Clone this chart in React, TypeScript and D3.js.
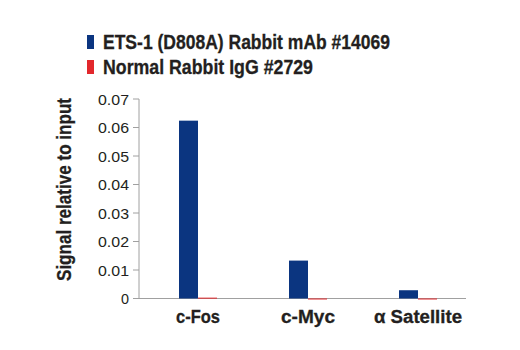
import React from "react";
import * as d3 from "d3";

const categories = ["c-Fos", "c-Myc", "α Satellite"];
const categoryLabelWidths = [44, 54, 88];
const seriesNames = ["ETS-1 (D808A) Rabbit mAb #14069", "Normal Rabbit IgG #2729"];
const legendWidths = [287, 210];
const etsValues = [0.0624, 0.0133, 0.0029];
const iggValues = [0.0003, -0.0003, -0.0001];
const yTicks = [0, 0.01, 0.02, 0.03, 0.04, 0.05, 0.06, 0.07];
const colors = ["#0b3580", "#e2282c"];

const FONT = "'Liberation Sans', Arial, sans-serif";

export default function App() {
  const W = 520, H = 350;
  const x0 = 139, x1 = 466;
  const y = d3.scaleLinear().domain([0, 0.07]).range([298.5, 99]);
  const xb = d3.scaleBand().domain(categories).range([143, 473]).padding(0);
  const barW = 19;
  const series = [etsValues, iggValues];
  return (
    <svg width={W} height={H} style={{ position: "absolute", left: 0, top: 0, background: "#fff" }}>
      {seriesNames.map((n, i) => (
        <g key={n} transform={`translate(87, ${35 + i * 25})`}>
          <rect x={0} y={0} width={7} height={14} fill={colors[i]} />
          <text x={16} y={14} fontFamily={FONT} fontWeight="bold" fontSize={20} fill="#231f20" stroke="#231f20" strokeWidth={0.3}
            textLength={legendWidths[i]} lengthAdjust="spacingAndGlyphs">{n}</text>
        </g>
      ))}
      <line x1={x0} x2={x0} y1={y(0.07)} y2={y(0)} stroke="#a0a0a0" strokeWidth={1} />
      <line x1={x0} x2={x1} y1={y(0)} y2={y(0)} stroke="#a0a0a0" strokeWidth={1} />
      {yTicks.map(t => {
        const label = t === 0 ? "0" : d3.format(".2f")(t);
        return (
          <g key={t}>
            <line x1={x0 - 6} x2={x0} y1={y(t)} y2={y(t)} stroke="#a0a0a0" strokeWidth={1} />
            <text x={x0 - 10} y={y(t)} dy="0.36em" textAnchor="end" fontFamily={FONT} fontSize={15.5} fill="#231f20"
              textLength={t === 0 ? 8 : 31} lengthAdjust="spacingAndGlyphs">{label}</text>
          </g>
        );
      })}
      <text transform={`translate(71, 189.5) rotate(-90)`} textAnchor="middle" fontFamily={FONT} fontWeight="bold" fontSize={20.5} fill="#231f20" stroke="#231f20" strokeWidth={0.3}
        textLength={183} lengthAdjust="spacingAndGlyphs">Signal relative to input</text>
      {categories.map((c, ci) => {
        const cx = (xb(c) as number) + xb.bandwidth() / 2;
        return (
          <g key={c}>
            {series.map((vals, si) => {
              const v = vals[ci];
              const top = y(Math.max(0, v));
              const bot = y(Math.min(0, v));
              return <rect key={si} x={cx - barW + si * barW} y={top} width={barW} height={Math.max(bot - top, 1)} fill={colors[si]} />;
            })}
            <text x={cx} y={323} textAnchor="middle" fontFamily={FONT} fontWeight="bold" fontSize={18} fill="#231f20" stroke="#231f20" strokeWidth={0.3}
              textLength={categoryLabelWidths[ci]} lengthAdjust="spacingAndGlyphs">{c}</text>
          </g>
        );
      })}
    </svg>
  );
}
